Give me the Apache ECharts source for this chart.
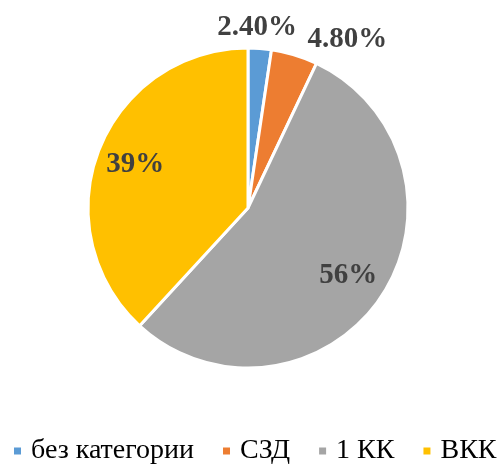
<!DOCTYPE html>
<html><head><meta charset="utf-8">
<script src="https://cdn.jsdelivr.net/npm/echarts@6/dist/echarts.min.js"></script>
<style>html,body{margin:0;padding:0;background:#fff}#c{width:499px;height:464px}</style>
</head><body><div id="c"></div>
<script>
const categories = ['без категории', 'СЗД', '1 КК', 'ВКК'];
const values = [2.4, 4.8, 56, 39];
const labelTexts = ['2.40%', '4.80%', '56%', '39%'];
const colors = ['#5B9BD5', '#ED7D31', '#A5A5A5', '#FFC000'];
const outerLabelIdx = [0, 1];
const innerLabelIdx = [2, 3];
// label nudges (px) for the outer labels, by data index
const outerNudge = { 0: [-5, 9], 1: [44, 13] };

const chart = echarts.init(document.getElementById('c'));
const center = [248, 208];
const font = '"Liberation Serif","Times New Roman",serif';
function labelData(showIdx) {
  return categories.map((n, i) => ({
    name: n, value: values[i],
    label: { show: showIdx.includes(i), formatter: labelTexts[i] }
  }));
}
const labelStyle = { position: 'inside', color: '#404040', fontFamily: font, fontWeight: 'bold', fontSize: 29 };
chart.setOption({
  animation: false,
  color: colors,
  legend: {
    top: 437, left: 12, width: 700, icon: 'rect', itemWidth: 9, itemHeight: 9, itemGap: 27,
    padding: 0,
    textStyle: { fontFamily: font, fontSize: 28, color: '#000', padding: [0, 0, 0, 4] },
    data: categories
  },
  series: [
    {
      type: 'pie', center: center, radius: 160, startAngle: 90,
      itemStyle: { borderColor: '#fff', borderWidth: 3 },
      label: { show: false }, labelLine: { show: false },
      data: categories.map((n, i) => ({ name: n, value: values[i] }))
    },
    {
      type: 'pie', center: center, radius: [100, 136], startAngle: 90, silent: true,
      avoidLabelOverlap: false,
      itemStyle: { color: 'transparent' }, labelLine: { show: false },
      label: labelStyle,
      labelLayout: { hideOverlap: false },
      data: labelData(innerLabelIdx)
    },
    {
      type: 'pie', center: center, radius: [168, 206], startAngle: 90, silent: true,
      avoidLabelOverlap: false,
      itemStyle: { color: 'transparent' }, labelLine: { show: false },
      label: labelStyle,
      labelLayout: function (p) {
        const n = outerNudge[p.dataIndex] || [0, 0];
        return { hideOverlap: false, dx: n[0], dy: n[1] };
      },
      data: labelData(outerLabelIdx)
    }
  ]
});
</script></body></html>
